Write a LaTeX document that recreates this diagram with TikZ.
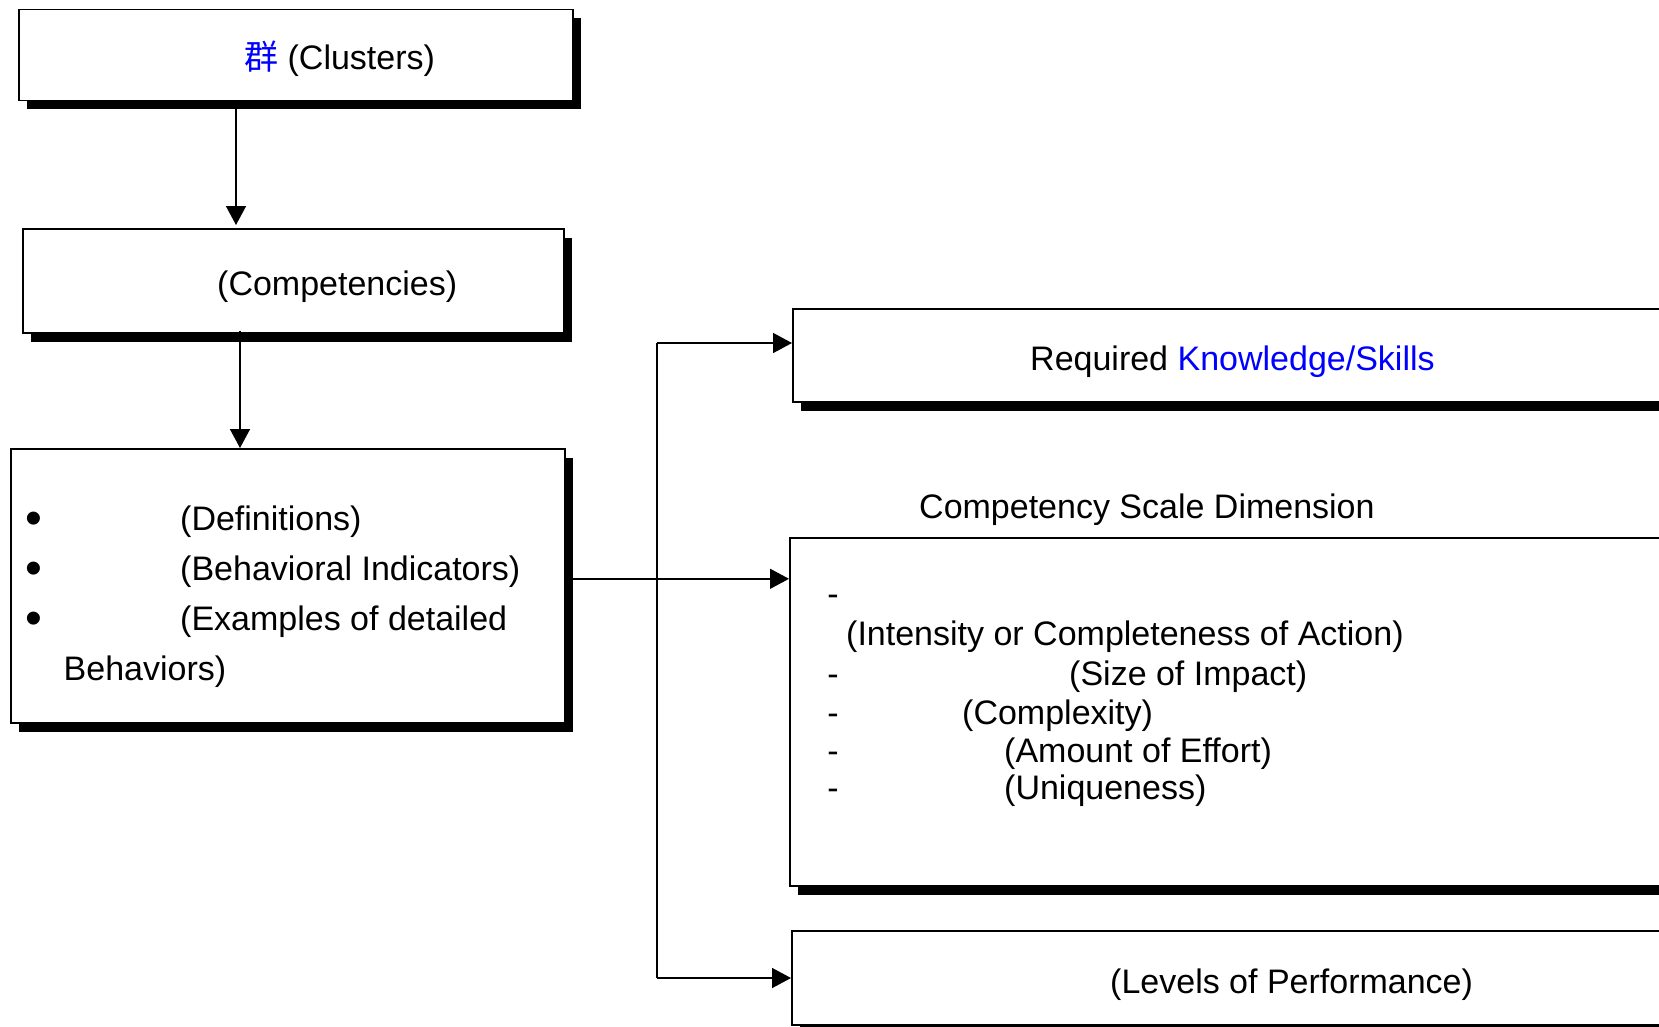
\documentclass[tikz,border=0pt]{standalone}
\usepackage{fontspec}
\setmainfont{Liberation Sans}
\newfontfamily\cjkfont{Noto Sans CJK TC}
\usetikzlibrary{arrows.meta,shadows}
\definecolor{linkblue}{RGB}{0,0,255}

\begin{document}
\begin{tikzpicture}[x=1pt,y=-1pt,
  box/.style={draw=black, line width=1.6pt, fill=white, inner sep=0pt,
    anchor=north west,
    drop shadow={shadow xshift=8pt, shadow yshift=-9pt, fill=black, opacity=1}},
  lbl/.style={anchor=base west, inner sep=0pt, font=\fontsize{34}{40}\selectfont},
  dashmark/.style={anchor=base, inner sep=0pt, font=\fontsize{34}{40}\selectfont},
  bul/.style={anchor=base, inner sep=0pt, font=\fontsize{48}{48}\selectfont},
  link/.style={line width=1.5pt},
  tip/.style={-{Triangle[length=19pt,width=20pt]}},
]
% page frame
\useasboundingbox (0,0) rectangle (1659,1026);
\fill[white] (0,0) rectangle (1659,1026);
\clip (0,0) rectangle (1659,1026);

% left column boxes
\node[box, minimum width=554pt, minimum height=91pt]  (clusters)     at (18,8.5) {};
\node[box, minimum width=541pt, minimum height=104pt] (competencies) at (22,228) {};
\node[box, minimum width=554pt, minimum height=274pt] (features)     at (10,448) {};

% right column boxes (running past the right edge)
\node[box, minimum width=1000pt, minimum height=93pt]  (knowledge) at (792,308) {};
\node[box, minimum width=1000pt, minimum height=348pt] (scale)     at (789,537) {};
\node[box, minimum width=1000pt, minimum height=94pt]  (levels)    at (791,930) {};

% labels
\node[lbl] (tclusters) at (244,69) {{\color{linkblue}\cjkfont 群} (Clusters)};
\node[lbl] (tcomp) at (217,295) {(Competencies)};

\node[bul] (b1) at (34.4,534.5) {•};
\node[bul] (b2) at (34.4,584.5) {•};
\node[bul] (b3) at (34.4,634.5) {•};
\node[lbl] (tdef)  at (180,530) {(Definitions)};
\node[lbl] (tind)  at (180,580) {(Behavioral Indicators)};
\node[lbl] (tex)   at (180,630) {(Examples of detailed};
\node[lbl] (tex2)  at (63.5,680) {Behaviors)};

\node[lbl] (tknow) at (1030,370) {Required {\color{linkblue}Knowledge/Skills}};
\node[lbl] (tdim)  at (919,518) {Competency Scale Dimension};

\node[dashmark] (d1) at (833,605) {-};
\node[dashmark] (d2) at (833,685) {-};
\node[dashmark] (d3) at (833,724) {-};
\node[dashmark] (d4) at (833,762) {-};
\node[dashmark] (d5) at (833,799) {-};
\node[lbl] (tint)  at (846,645) {(Intensity or Completeness of Action)};
\node[lbl] (tsize) at (1069,685) {(Size of Impact)};
\node[lbl] (tcplx) at (962,724) {(Complexity)};
\node[lbl] (teff)  at (1004,762) {(Amount of Effort)};
\node[lbl] (tuniq) at (1004,799) {(Uniqueness)};

\node[lbl] (tlev) at (1110,993) {(Levels of Performance)};

% connectors
\draw[link,tip,shorten >=3pt] ([xshift=218pt]clusters.south west) -- ([xshift=214pt]competencies.north west);
\draw[link,tip] ([xshift=218pt,yshift=3pt]competencies.south west) -- ([xshift=230pt]features.north west);

\coordinate (bustop) at (657,343);
\coordinate (busbot) at (657,978);
\draw[link] (bustop) -- (busbot);
\draw[link,tip] (bustop) -- (bustop -| knowledge.west);
\draw[link,tip] ([yshift=7pt]features.east) -- ([yshift=7pt]features.east -| scale.west);
\draw[link,tip] (busbot) -- (busbot -| levels.west);
\end{tikzpicture}
\end{document}
